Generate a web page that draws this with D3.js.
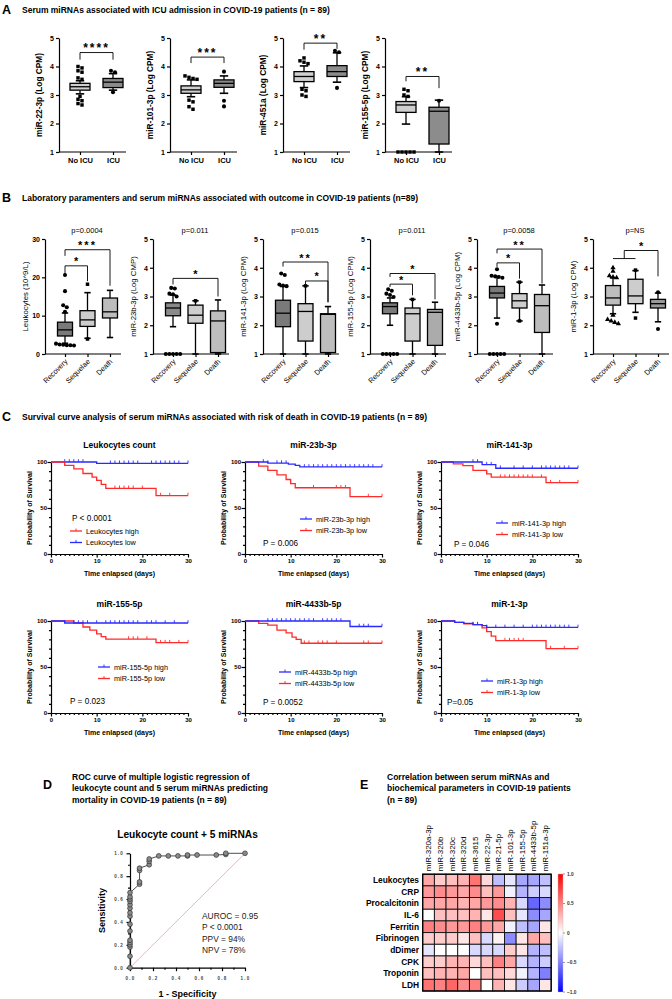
<!DOCTYPE html>
<html><head><meta charset="utf-8">
<script src="https://cdn.jsdelivr.net/npm/d3@7"></script>
<style>body{margin:0;background:#fff}svg{display:block}</style>
</head><body>
<script>
// ================= DATA =================
// Panel A
const icuGroups = ["No ICU", "ICU"];
const icuLabels = ["miR-22-3p (Log CPM)", "miR-101-3p (Log CPM)", "miR-451a (Log CPM)", "miR-155-5p (Log CPM)"];
const icuTicks = [1, 2, 3, 4, 5];
// [whiskerLow, q1, median, q3, whiskerHigh]
const icuBoxes = [
  [[3.04, 3.17, 3.29, 3.41, 3.50], [3.17, 3.26, 3.45, 3.58, 3.75]],
  [[2.94, 3.06, 3.18, 3.32, 3.53], [3.06, 3.27, 3.41, 3.53, 3.67]],
  [[3.26, 3.47, 3.65, 3.82, 4.02], [3.45, 3.65, 3.82, 4.03, 4.48]],
  [[1.98, 2.39, 2.65, 2.77, 2.94], [1.00, 1.28, 2.43, 2.57, 2.82]]
];
const icuOutliers = [
  [[4.0, 3.95, 3.85, 3.8, 3.6, 3.55, 2.95, 2.85, 2.8, 2.7, 2.65], [3.85, 3.8, 3.1]],
  [[3.67, 3.62, 3.58, 3.55, 2.82, 2.76, 2.59, 2.5], [3.82, 2.8, 2.6]],
  [[4.3, 4.2, 4.15, 4.1, 3.2, 3.15, 3.0, 2.95], [4.55, 4.5, 3.25]],
  [[3.2, 3.15, 3.0, 2.95, 1.0, 1.0, 1.0, 1.0, 1.0], [2.8]]
];
// [fromGroup, toGroup, top, leftEnd, rightEnd, label]
const icuBrackets = [
  [0, 1, 4.49, 4.24, 4.24, "****"],
  [0, 1, 4.33, 4.12, 4.12, "***"],
  [0, 1, 4.82, 4.59, 4.62, "**"],
  [0, 1, 3.65, 3.48, 3.24, "**"]
];

// Panel B
const outcomeGroups = ["Recovery", "Sequelae", "Death"];
const outcomeLabels = ["Leukocytes (10^9/L)", "miR-23b-3p (Log CMP)", "miR-141-3p (Log CPM)", "miR-155-5p (Log CPM)", "miR-4433b-5p (Log CPM)", "miR-1-3p (Log CPM)"];
const outcomePvals = ["p=0.0004", "p=0.011", "p=0.015", "p=0.011", "p=0.0058", "p=NS"];
const outcomeDomains = [[0, 30], [1, 5], [1, 5], [1, 5], [1, 5], [1, 5]];
const outcomeTicks = [[0, 10, 20, 30], [1, 2, 3, 4, 5], [1, 2, 3, 4, 5], [1, 2, 3, 4, 5], [1, 2, 3, 4, 5], [1, 2, 3, 4, 5]];
const outcomeBoxes = [
  [[2.8, 4.7, 6.3, 8.3, 10.7], [4.1, 7.2, 8.9, 11.3, 16.0], [4.3, 9.4, 11.0, 14.6, 16.6]],
  [[1.95, 2.33, 2.6, 2.78, 3.05], [1.0, 2.07, 2.35, 2.7, 2.85], [1.0, 1.05, 2.15, 2.5, 2.88]],
  [[1.0, 1.95, 2.42, 2.87, 3.35], [1.0, 1.45, 2.48, 2.75, 3.37], [1.0, 1.05, 2.38, 2.4, 2.65]],
  [[2.0, 2.4, 2.65, 2.78, 2.95], [1.0, 1.45, 2.4, 2.6, 2.9], [1.0, 1.3, 2.45, 2.55, 2.8]],
  [[2.25, 2.95, 3.12, 3.35, 3.7], [2.15, 2.6, 2.85, 3.1, 3.5], [1.0, 1.75, 2.68, 3.07, 3.4]],
  [[2.4, 2.7, 2.95, 3.38, 3.65], [2.45, 2.75, 3.02, 3.6, 3.9], [2.12, 2.6, 2.75, 2.9, 3.12]]
];
const outcomeOutliers = [
  [[20.6, 16.4, 12.7, 12.2, 11.0, 2.7, 2.5, 2.4, 2.3, 2.3, 2.2], [18.2, 3.9], []],
  [[3.3, 3.28, 3.1, 3.08, 3.0, 1.0, 1.0, 1.0, 1.0, 1.0], [2.85], []],
  [[3.8, 3.75, 3.42, 3.38, 3.36], [3.37], []],
  [[3.25, 3.2, 3.1, 3.05, 2.98, 1.0, 1.0, 1.0, 1.0, 1.0], [2.9], []],
  [[3.95, 3.72, 3.7, 3.68, 3.65, 2.05, 1.0, 1.0, 1.0, 1.0, 1.0], [3.5, 2.15], []],
  [[4.0, 3.88, 3.72, 3.68, 3.65, 2.35, 2.2, 2.15, 2.1, 2.05], [3.92, 2.25], [3.15, 1.87]]
];
const outcomeBrackets = [
  [[0, 1, 23.0, 20.8, 19.0, "*"], [0, 2, 27.2, 25.6, 17.8, "***"]],
  [[0, 2, 3.63, 3.42, 3.0, "*"]],
  [[0, 2, 4.2, 4.04, 2.8, "**"], [1, 2, 3.54, 3.42, 2.8, "*"]],
  [[0, 1, 3.43, 3.33, 3.04, "*"], [0, 2, 3.8, 3.68, 2.9, "*"]],
  [[0, 1, 4.17, 4.03, 3.62, "*"], [0, 2, 4.65, 4.5, 3.45, "**"]],
  []
];
// grouped bracket of last plot: [groupA, groupB] vs groupC, joinLevel, top, rightEnd
const outcomeGroupBracket = [0, 1, 2, 4.32, 4.6, 3.7, "*"];

// Panel C
const survTitles = ["Leukocytes count", "miR-23b-3p", "miR-141-3p", "miR-155-5p", "miR-4433b-5p", "miR-1-3p"];
const survNames = ["Leukocytes", "miR-23b-3p", "miR-141-3p", "miR-155-5p", "miR-4433b-5p", "miR-1-3p"];
const survP = ["P < 0.0001", "P = 0.006", "P = 0.046", "P = 0.023", "P = 0.0052", "P=0.05"];
const survHigh = [
  [[0, 100], [3, 96.4], [5, 92.5], [7, 87.5], [9, 83.6], [10, 80], [11, 75.7], [12, 71.4], [23, 63.5], [30, 63.5]],
  [[0, 100], [5, 98.8], [9.5, 97.6], [11, 96.4], [12, 94.6], [30, 94.6]],
  [[0, 100], [9, 97.1], [12, 93.2], [30, 93.2]],
  [[0, 100], [3, 97.8], [30, 97.8]],
  [[0, 100], [23, 94], [30, 94]],
  [[0, 100], [3, 98.5], [5, 97.5], [7, 96], [9, 95], [10, 93], [30, 93]]
];
const survLow = [
  [[0, 100], [10, 98.6], [30, 98.6]],
  [[0, 100], [3, 95.5], [5, 91], [7, 86], [9, 81], [10, 76.5], [11, 72], [23, 62.4], [30, 62.4]],
  [[0, 100], [2.7, 98], [4.8, 96], [7, 91], [10, 87], [11, 83.5], [23, 77.5], [30, 77.5]],
  [[0, 100], [5, 97.8], [7, 93.5], [8.5, 90], [10, 86], [11, 83], [12, 80.4], [23, 76.4], [30, 76.4]],
  [[0, 100], [3, 97.5], [5, 95.6], [7, 90], [9, 87], [10.3, 82.5], [11.2, 80], [12.3, 75.8], [30, 75.8]],
  [[0, 100], [3, 98.5], [5, 97], [7, 96], [9, 92.5], [10, 88.5], [11, 83.5], [12, 78.6], [23, 70], [30, 70]]
];
const survHighCensor = [
  [14, 15, 16, 17, 18, 20, 24, 26, 30],
  [4, 5, 7, 8, 9, 13, 14, 15, 16, 17, 18, 19, 20, 21, 22, 23, 24, 25, 26, 27, 28, 30],
  [7, 8, 10, 11, 13, 16, 18, 20, 22, 23, 24, 25, 26, 27, 28, 30],
  [3, 5, 6, 7, 8, 10, 12, 13, 14, 15, 16, 17, 18, 19, 21, 22, 23, 25, 27, 30],
  [5, 6, 7, 8, 9, 10, 11, 12, 13, 14, 15, 17, 18, 19, 20, 21, 25, 26, 27, 30],
  [7, 8, 10, 12, 14, 16, 18, 20, 21, 22, 23, 24, 25, 26, 27, 28, 30]
];
const survLowCensor = [
  [3, 4, 5, 6, 7, 13, 14, 15, 16, 17, 18, 19, 22, 23, 24, 25, 26, 27, 28, 30],
  [15, 20, 21, 22, 27, 30],
  [10, 13, 14, 15, 16, 17, 18, 19, 20, 22, 24, 26, 30],
  [17, 18, 19, 21, 24, 25, 26, 28, 30],
  [13, 14, 16, 17, 18, 20, 26, 27, 30],
  [7, 8, 14, 15, 16, 17, 18, 24, 27, 30]
];
const survXTicks = [0, 10, 20, 30];
const survYTicks = [0, 50, 100];

// Panel D
const rocPoints = [
  [0, 0], [0, 0.1], [0, 0.18], [0, 0.2], [0, 0.22], [0, 0.24], [0, 0.32], [0, 0.38], [0, 0.45], [0, 0.48],
  [0, 0.52], [0, 0.55], [0, 0.58], [0, 0.6], [0, 0.62], [0, 0.656], [0.083, 0.73], [0.083, 0.75], [0.083, 0.85],
  [0.083, 0.87], [0.167, 0.9], [0.167, 0.93], [0.167, 0.95], [0.25, 0.977], [0.333, 0.977], [0.417, 0.977],
  [0.5, 0.977], [0.5, 0.985], [0.583, 0.985], [0.75, 0.985], [0.833, 0.99], [0.833, 1.0], [1, 1]
];
const rocTicks = [0, 0.2, 0.4, 0.6, 0.8, 1.0];
const rocStats = ["AUROC = 0.95", "P < 0.0001", "PPV = 94%", "NPV = 78%"];

// Panel E
const heatCols = ["miR-320a-3p", "miR-320b", "miR-320c", "miR-320d", "miR-3615", "miR-22-3p", "miR-21-5p", "miR-101-3p", "miR-155-5p", "miR-4433b-5p", "miR-151a-3p"];
const heatRows = ["Leukocytes", "CRP", "Procalcitonin", "IL-6", "Ferritin", "Fibrinogen", "dDimer", "CPK", "Troponin", "LDH"];
const heatValues = [
  [0.35, 0.2, 0.25, 0.3, 0.55, 0.15, -0.25, -0.1, -0.35, -0.35, -0.25],
  [0.4, 0.45, 0.4, 0.35, 0.45, 0.25, 0.4, -0.05, -0.3, -0.2, -0.15],
  [0.35, 0.35, 0.35, 0.3, 0.35, 0.4, 0.45, 0.3, -0.15, -0.6, -0.45],
  [0.0, 0.25, 0.25, 0.25, 0.3, 0.1, 0.7, 0.25, -0.1, -0.45, -0.35],
  [0.5, 0.45, 0.4, 0.4, 0.5, 0.4, 0.35, -0.05, -0.25, -0.35, 0.1],
  [0.2, 0.2, 0.2, 0.1, 0.25, -0.15, 0.05, -0.45, 0.1, 0.35, 0.25],
  [-0.1, 0.0, 0.0, 0.0, -0.15, -0.15, -0.15, 0.2, 0.1, -0.3, -0.25],
  [0.2, 0.2, 0.3, 0.3, 0.15, 0.25, 0.5, 0.35, -0.15, -0.3, -0.2],
  [0.25, 0.3, 0.3, 0.35, 0.0, 0.25, 0.25, 0.15, -0.05, -0.3, -0.5],
  [0.55, 0.5, 0.6, 0.45, 0.5, 0.0, 0.3, 0.1, -0.2, -0.35, 0.1]
];
const heatScaleTicks = [1.0, 0.5, 0, -0.5, -1.0];

// ================= DRAWING =================
const FONT = '"Liberation Sans", Arial, Helvetica, sans-serif';
const svg = d3.select('body').append('svg').attr('width', 672).attr('height', 999)
  .attr('font-family', FONT).style('background', '#fff');

function txt(g, x, y, s, size, opts = {}) {
  const t = g.append('text').attr('x', x).attr('y', y).attr('font-size', size).text(s);
  if (opts.bold) t.attr('font-weight', 'bold');
  if (opts.anchor) t.attr('text-anchor', opts.anchor);
  if (opts.fill) t.attr('fill', opts.fill);
  return t;
}
function styleAxis(ax, fsize, bold) {
  ax.selectAll('path,line').attr('stroke', '#000').attr('stroke-width', 1.2);
  ax.selectAll('text').attr('font-size', fsize).attr('font-family', FONT).attr('fill', '#000')
    .attr('font-weight', bold ? 'bold' : 'normal');
}
function spreadPoints(vals, y, cx, spacing) {
  const sorted = vals.map(v => ({ v, py: y(v) })).sort((a, b) => a.py - b.py);
  const clusters = [];
  sorted.forEach(p => {
    const c = clusters[clusters.length - 1];
    if (c && Math.abs(p.py - c[c.length - 1].py) < 2.6) c.push(p); else clusters.push([p]);
  });
  const out = [];
  clusters.forEach(c => c.forEach((p, i) => out.push({ x: cx + (i - (c.length - 1) / 2) * spacing, y: p.py })));
  return out;
}
function drawBox(g, cx, y, st, fill, bw) {
  const [wl, q1, md, q3, wh] = st;
  const cw = bw * 0.42;
  const ln = (x1, y1, x2, y2, w = 1.3) => g.append('line').attr('x1', x1).attr('y1', y1).attr('x2', x2).attr('y2', y2)
    .attr('stroke', '#000').attr('stroke-width', w);
  ln(cx, y(wl), cx, y(q1)); ln(cx, y(q3), cx, y(wh));
  ln(cx - cw / 2, y(wl), cx + cw / 2, y(wl), 1.6); ln(cx - cw / 2, y(wh), cx + cw / 2, y(wh), 1.6);
  g.append('rect').attr('x', cx - bw / 2).attr('y', y(q3)).attr('width', bw).attr('height', Math.max(0.5, y(q1) - y(q3)))
    .attr('fill', fill).attr('stroke', '#000').attr('stroke-width', 1.3);
  ln(cx - bw / 2, y(md), cx + bw / 2, y(md), 1.3);
}
const symMap = { square: d3.symbolSquare, circle: d3.symbolCircle, triangle: d3.symbolTriangle };
function drawPoints(g, vals, y, cx, shape, spacing) {
  spreadPoints(vals, y, cx, spacing).forEach(p => {
    g.append('path').attr('d', d3.symbol().type(symMap[shape]).size(shape === 'circle' ? 13 : 12)())
      .attr('transform', `translate(${p.x},${p.y})`).attr('fill', '#000');
  });
}
function drawBracket(g, x1, x2, yTop, yL, yR, label, fs) {
  g.append('path').attr('d', `M${x1},${yL}V${yTop}H${x2}V${yR}`).attr('fill', 'none').attr('stroke', '#000').attr('stroke-width', 0.9);
  txt(g, (x1 + x2) / 2, yTop - 0.5, label, fs, { bold: true, anchor: 'middle' }).attr('letter-spacing', label.length > 1 ? 2 : 0);
}

// ---------- Panel A ----------
txt(svg, 2, 14, 'A', 12.5, { bold: true });
txt(svg, 22, 13, 'Serum miRNAs associated with ICU admission in COVID-19 patients (n = 89)', 8.5, { bold: true });
const aAxisX = [59, 170, 283, 385], aTop = 38, aBot = 152, aW = 67;
const aFills = ['#cfcfcf', '#8c8c8c'];
const aShapes = ['square', 'circle'];
icuLabels.forEach((lab, i) => {
  const g = svg.append('g');
  const x0 = aAxisX[i];
  const y = d3.scaleLinear().domain([1, 5]).range([aBot, aTop]);
  const x = d3.scalePoint().domain(icuGroups).range([x0 + 21, x0 + 54]);
  const ya = g.append('g').attr('transform', `translate(${x0},0)`)
    .call(d3.axisLeft(y).tickValues(icuTicks).tickSize(3).tickSizeOuter(0).tickPadding(2).tickFormat(d3.format('d')));
  styleAxis(ya, 7, true);
  g.append('line').attr('x1', x0).attr('x2', x0 + aW).attr('y1', aBot).attr('y2', aBot).attr('stroke', '#000').attr('stroke-width', 1.2);
  const xa = g.append('g').attr('transform', `translate(0,${aBot})`).call(d3.axisBottom(x).tickSize(3).tickPadding(3));
  xa.select('.domain').remove();
  styleAxis(xa, 7.5, true);
  txt(g, 0, 0, lab, 8.3, { bold: true, anchor: 'middle' }).attr('transform', `translate(${x0 - 17},${(aTop + aBot) / 2}) rotate(-90)`);
  icuGroups.forEach((grp, j) => {
    drawBox(g, x(grp), y, icuBoxes[i][j], aFills[j], 20);
    drawPoints(g, icuOutliers[i][j], y, x(grp), aShapes[j], 4);
  });
  const b = icuBrackets[i];
  drawBracket(g, x(icuGroups[b[0]]), x(icuGroups[b[1]]), y(b[2]), y(b[3]), y(b[4]), b[5], 12);
});

// ---------- Panel B ----------
txt(svg, 2, 202, 'B', 12.5, { bold: true });
txt(svg, 22, 201, 'Laboratory paramenters and serum miRNAs associated with outcome in COVID-19 patients (n=89)', 8.5, { bold: true });
const bAxisX = [45, 153, 263, 370, 477, 593], bTop = 239, bBot = 354, bW = 76;
const bFills = [
  ['#7a7a7a', '#cdcdcd', '#bdbdbd'], ['#8a8a8a', '#cdcdcd', '#bdbdbd'], ['#7a7a7a', '#cdcdcd', '#bdbdbd'],
  ['#7a7a7a', '#cdcdcd', '#ababab'], ['#7a7a7a', '#cdcdcd', '#bdbdbd'], ['#bdbdbd', '#cdcdcd', '#9a9a9a']
];
const bShapes = [['circle', 'square', 'triangle'], ['circle', 'square', 'triangle'], ['circle', 'square', 'triangle'],
  ['circle', 'square', 'triangle'], ['circle', 'square', 'triangle'], ['triangle', 'square', 'circle']];
outcomeLabels.forEach((lab, i) => {
  const g = svg.append('g');
  const x0 = bAxisX[i];
  const y = d3.scaleLinear().domain(outcomeDomains[i]).range([bBot, bTop]);
  const x = d3.scalePoint().domain(outcomeGroups).range([x0 + 20, x0 + 65]);
  const ya = g.append('g').attr('transform', `translate(${x0},0)`)
    .call(d3.axisLeft(y).tickValues(outcomeTicks[i]).tickSize(3).tickSizeOuter(0).tickPadding(2).tickFormat(d3.format('d')));
  styleAxis(ya, 7, true);
  g.append('line').attr('x1', x0).attr('x2', x0 + bW).attr('y1', bBot).attr('y2', bBot).attr('stroke', '#000').attr('stroke-width', 1.2);
  const xa = g.append('g').attr('transform', `translate(0,${bBot})`).call(d3.axisBottom(x).tickSize(3).tickFormat(''));
  xa.select('.domain').remove();
  styleAxis(xa, 7, false);
  outcomeGroups.forEach(grp => {
    txt(g, 0, 0, grp, 7.3, { anchor: 'end' }).attr('transform', `translate(${x(grp) + 3},${bBot + 8}) rotate(-45)`);
  });
  txt(g, 0, 0, lab, 7.8, { anchor: 'middle' }).attr('transform', `translate(${x0 - 17},${(bTop + bBot) / 2}) rotate(-90)`);
  txt(g, x0 + 42, 233, outcomePvals[i], 7.5, { anchor: 'middle' });
  outcomeGroups.forEach((grp, j) => {
    drawBox(g, x(grp), y, outcomeBoxes[i][j], bFills[i][j], 15);
    drawPoints(g, outcomeOutliers[i][j], y, x(grp), bShapes[i][j], 3.6);
  });
  outcomeBrackets[i].forEach(b => {
    drawBracket(g, x(outcomeGroups[b[0]]), x(outcomeGroups[b[1]]), y(b[2]), y(b[3]), y(b[4]), b[5], 11);
  });
  if (i === 5) {
    const [a, bb, c, join, top, rEnd, lbl] = outcomeGroupBracket;
    const xa1 = x(outcomeGroups[a]), xa2 = x(outcomeGroups[bb]), xc = x(outcomeGroups[c]);
    const xm = (xa1 + xa2) / 2;
    g.append('path').attr('d', `M${xa1},${y(join)}H${xa2}M${xm},${y(join)}V${y(top)}H${xc}V${y(rEnd)}`)
      .attr('fill', 'none').attr('stroke', '#000').attr('stroke-width', 0.9);
    txt(g, (xm + xc) / 2, y(top) - 0.5, lbl, 11, { bold: true, anchor: 'middle' });
  }
});

// ---------- Panel C ----------
txt(svg, 2, 421, 'C', 12.5, { bold: true });
txt(svg, 22, 420, 'Survival curve analysis of serum miRNAs associated with risk of death in COVID-19 patients (n = 89)', 8.5, { bold: true });
const cAxisX = [51, 245, 441], cY100 = [462, 621], cY0 = [554, 713], cW = 137;
const RED = '#ff2a2a', BLUE = '#2a2aff';
const legendPos = [
  { p: [21, 521], l: [19, 531], order: ['high', 'low'], highC: RED, lowC: BLUE },
  { p: [18, 546], l: [55, 519], order: ['high', 'low'], highC: BLUE, lowC: RED },
  { p: [13, 547], l: [55, 523], order: ['high', 'low'], highC: BLUE, lowC: RED },
  { p: [19, 704], l: [47, 667], order: ['high', 'low'], highC: BLUE, lowC: RED },
  { p: [18, 705], l: [34, 672], order: ['high', 'low'], highC: BLUE, lowC: RED },
  { p: [6, 705], l: [40, 681], order: ['high', 'low'], highC: BLUE, lowC: RED }
];
survTitles.forEach((title, i) => {
  const row = Math.floor(i / 3), col = i % 3;
  const g = svg.append('g');
  const x0 = cAxisX[col];
  const x = d3.scaleLinear().domain([0, 30]).range([x0, x0 + cW]);
  const y = d3.scaleLinear().domain([0, 100]).range([cY0[row], cY100[row]]);
  // axes
  const ya = g.append('g').attr('transform', `translate(${x0},0)`)
    .call(d3.axisLeft(y).tickValues(d3.range(0, 101, 10)).tickSize(2).tickSizeOuter(0).tickPadding(2)
      .tickFormat(d => survYTicks.includes(d) ? d : ''));
  styleAxis(ya, 6, true);
  ya.selectAll('.tick line').attr('x2', d => survYTicks.includes(d) ? -3.5 : -2);
  const xa = g.append('g').attr('transform', `translate(0,${cY0[row]})`)
    .call(d3.axisBottom(x).tickValues(d3.range(0, 31, 1)).tickSize(2).tickSizeOuter(0).tickPadding(3)
      .tickFormat(d => survXTicks.includes(d) ? d : ''));
  styleAxis(xa, 6, true);
  xa.selectAll('.tick line').attr('y2', d => survXTicks.includes(d) ? 3.5 : 2);
  txt(g, x0 + cW / 2, cY100[row] - 14, title, 8.5, { bold: true, anchor: 'middle' });
  txt(g, x0 + cW / 2, cY0[row] + 22, 'Time enlapsed (days)', 7, { bold: true, anchor: 'middle' });
  txt(g, 0, 0, 'Probability of Survival', 7, { bold: true, anchor: 'middle' })
    .attr('transform', `translate(${x0 - 19},${(cY0[row] + cY100[row]) / 2}) rotate(-90)`);
  const lp = legendPos[i];
  const line = d3.line().x(d => x(d[0])).y(d => y(d[1])).curve(d3.curveStepAfter);
  const valAt = (arr, d) => { let v = arr[0][1]; arr.forEach(p => { if (p[0] <= d) v = p[1]; }); return v; };
  const series = [
    { data: survHigh[i], cens: survHighCensor[i], c: lp.highC, name: survNames[i] + ' high' },
    { data: survLow[i], cens: survLowCensor[i], c: lp.lowC, name: survNames[i] + ' low' }
  ];
  // draw lower-positioned first so blue upper drawn later
  series.slice().reverse().forEach(s => {
    g.append('path').attr('d', line(s.data)).attr('fill', 'none').attr('stroke', s.c).attr('stroke-width', 1.3);
    s.cens.forEach(d => {
      const yy = y(valAt(s.data, d));
      g.append('line').attr('x1', x(d)).attr('x2', x(d)).attr('y1', yy - 2.8).attr('y2', yy)
        .attr('stroke', s.c).attr('stroke-width', 0.9);
    });
  });
  // legend
  series.forEach((s, k) => {
    const ly = lp.l[1] + k * 11.5;
    const lx = x0 + lp.l[0];
    g.append('line').attr('x1', lx).attr('x2', lx + 12).attr('y1', ly).attr('y2', ly).attr('stroke', s.c).attr('stroke-width', 1.3);
    g.append('line').attr('x1', lx + 6).attr('x2', lx + 6).attr('y1', ly - 2.5).attr('y2', ly).attr('stroke', s.c).attr('stroke-width', 0.9);
    txt(g, lx + 16, ly + 2.7, s.name, 7.3, {});
  });
  txt(g, x0 + lp.p[0], lp.p[1], survP[i], 8.2, {});
});

// ---------- Panel D ----------
txt(svg, 43, 789, 'D', 12.5, { bold: true });
['ROC curve of multiple logistic regression of', 'leukocyte count and 5 serum miRNAs predicting', 'mortality in COVID-19 patients (n = 89)']
  .forEach((s, k) => txt(svg, 72, 779.5 + k * 11.5, s, 8.5, { bold: true }));
{
  const g = svg.append('g');
  const x = d3.scaleLinear().domain([0, 1]).range([130, 245]);
  const y = d3.scaleLinear().domain([0, 1]).range([967.7, 853.3]);
  txt(g, 187.5, 838, 'Leukocyte count + 5 miRNAs', 10.2, { bold: true, anchor: 'middle' });
  g.append('line').attr('x1', x(0)).attr('y1', y(0)).attr('x2', x(1)).attr('y2', y(1)).attr('stroke', '#f2a0a0').attr('stroke-width', 0.8);
  const ya = g.append('g').attr('transform', `translate(${x(0)},0)`)
    .call(d3.axisLeft(y).tickValues(d3.range(0, 1.01, 0.1)).tickSize(2).tickSizeOuter(0).tickPadding(4)
      .tickFormat(d => Math.round(d * 10) % 2 === 0 ? d3.format('.1f')(d) : ''));
  styleAxis(ya, 4.5, true);
  ya.selectAll('.tick line').attr('x2', d => Math.round(d * 10) % 2 === 0 ? -3.5 : -2);
  ya.selectAll('text').attr('letter-spacing', 1.2).attr('fill', '#444');
  const xa = g.append('g').attr('transform', `translate(0,${y(0)})`)
    .call(d3.axisBottom(x).tickValues(d3.range(0, 1.01, 0.1)).tickSize(2).tickSizeOuter(0).tickPadding(7)
      .tickFormat(d => Math.round(d * 10) % 2 === 0 ? d3.format('.1f')(d) : ''));
  styleAxis(xa, 4.5, true);
  xa.selectAll('.tick line').attr('y2', d => Math.round(d * 10) % 2 === 0 ? 3.5 : 2);
  xa.selectAll('text').attr('letter-spacing', 1.2).attr('fill', '#444');
  g.append('path').attr('d', d3.line().x(d => x(d[0])).y(d => y(d[1]))(rocPoints))
    .attr('fill', 'none').attr('stroke', '#222').attr('stroke-width', 0.8);
  rocPoints.forEach(p => g.append('circle').attr('cx', x(p[0])).attr('cy', y(p[1])).attr('r', 2.4)
    .attr('fill', '#8a8a8a').attr('stroke', '#333').attr('stroke-width', 0.7));
  txt(g, 0, 0, 'Sensitivity', 9, { bold: true, anchor: 'middle' }).attr('transform', `translate(105,${(y(0) + y(1)) / 2}) rotate(-90)`);
  txt(g, 187.5, 997, '1 - Specificity', 9, { bold: true, anchor: 'middle' });
  rocStats.forEach((s, k) => txt(g, 202, 919 + k * 11.3, s, 8.4, { fill: '#222' }));
}

// ---------- Panel E ----------
txt(svg, 360, 789, 'E', 12.5, { bold: true });
['Correlation between serum miRNAs and', 'biochemical parameters in COVID-19 patients', '(n = 89)']
  .forEach((s, k) => txt(svg, 387, 779.5 + k * 11.5, s, 8.5, { bold: true }));
{
  const g = svg.append('g');
  const left = 422.7, top = 874.2, cell = 11.68;
  const x = d3.scaleBand().domain(heatCols).range([left, left + cell * heatCols.length]);
  const y = d3.scaleBand().domain(heatRows).range([top, top + cell * heatRows.length]);
  const color = d3.scaleLinear().domain([-1, 0, 1]).range(['#0000ff', '#ffffff', '#ff0000']);
  heatRows.forEach((r, i) => heatCols.forEach((c, j) => {
    g.append('rect').attr('x', x(c)).attr('y', y(r)).attr('width', x.bandwidth()).attr('height', y.bandwidth())
      .attr('fill', color(heatValues[i][j])).attr('stroke', '#111').attr('stroke-width', 0.9);
  }));
  g.append('rect').attr('x', left).attr('y', top).attr('width', cell * heatCols.length).attr('height', cell * heatRows.length)
    .attr('fill', 'none').attr('stroke', '#000').attr('stroke-width', 1.3);
  heatCols.forEach(c => {
    txt(g, 0, 0, c, 8, {}).attr('dy', '0.35em')
      .attr('transform', `translate(${x(c) + x.bandwidth() / 2},${top - 3}) rotate(-90)`);
  });
  heatRows.forEach(r => {
    txt(g, 419, y(r) + y.bandwidth() / 2, r, 8.4, { bold: true, anchor: 'end' }).attr('dy', '0.35em');
  });
  // color bar
  const defs = svg.append('defs');
  const grad = defs.append('linearGradient').attr('id', 'cbar').attr('x1', 0).attr('x2', 0).attr('y1', 0).attr('y2', 1);
  [[0, 1], [0.5, 0], [1, -1]].forEach(([o, v]) => grad.append('stop').attr('offset', o).attr('stop-color', color(v)));
  const cb = d3.scaleLinear().domain([-1, 1]).range([992, 874]);
  g.append('rect').attr('x', 558).attr('y', cb(1)).attr('width', 5).attr('height', cb(-1) - cb(1))
    .attr('fill', 'url(#cbar)').attr('stroke', '#bbb').attr('stroke-width', 0.4);
  heatScaleTicks.forEach(t => {
    g.append('line').attr('x1', 563).attr('x2', 565).attr('y1', cb(t)).attr('y2', cb(t)).attr('stroke', '#555').attr('stroke-width', 0.6);
    txt(g, 567, cb(t), t === 0 ? '0' : d3.format('.1f')(t), 4.8, { bold: true, fill: '#333' }).attr('dy', '0.35em');
  });
}
</script>
</body></html>
